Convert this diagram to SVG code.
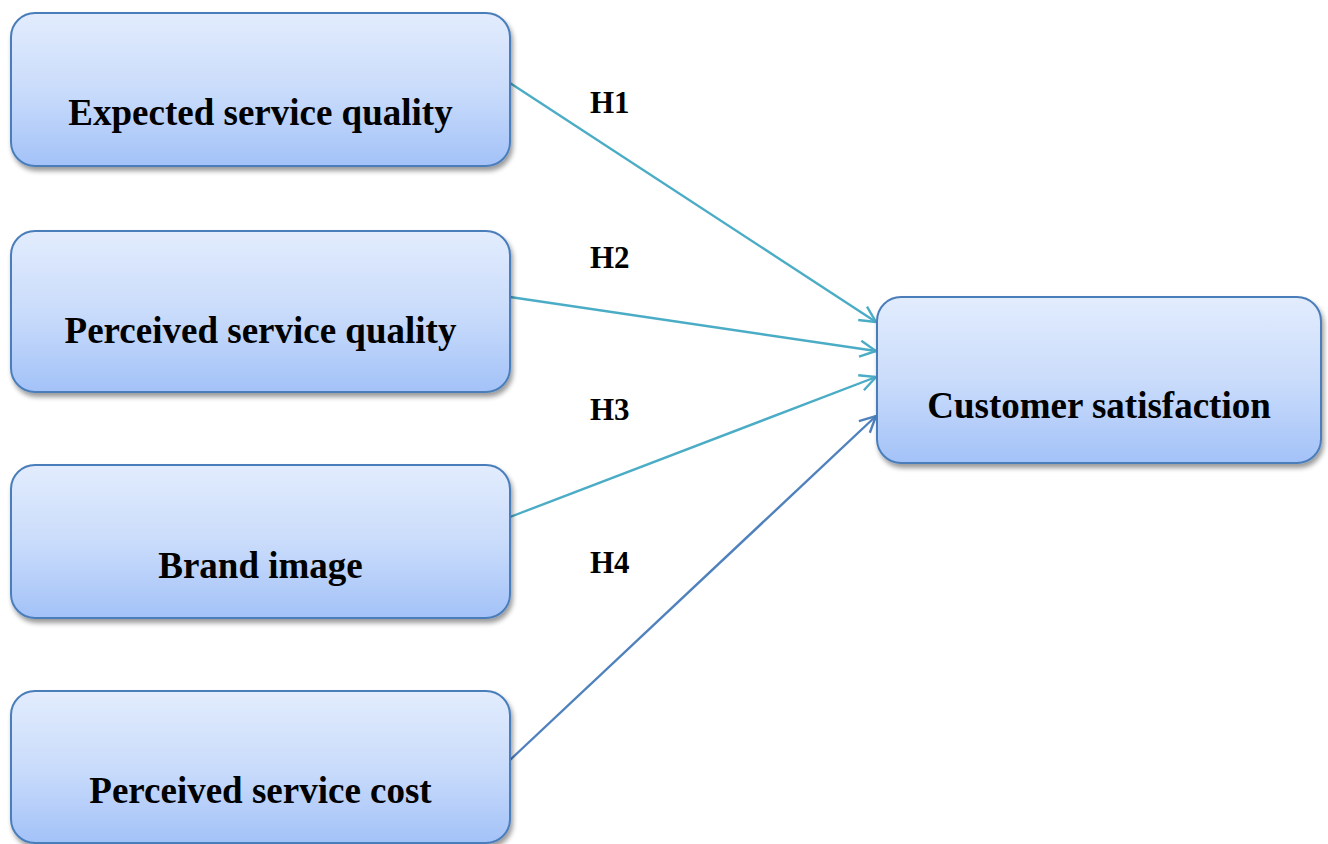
<svg xmlns="http://www.w3.org/2000/svg" width="1328" height="844" viewBox="0 0 1328 844">
<style>
.box{fill:url(#g);stroke:#4a7ebb;stroke-width:2;filter:url(#sh)}
.t{font-family:"Liberation Serif","Times New Roman",serif;font-weight:bold;font-size:37px;fill:#000;text-anchor:middle}
.h{font-family:"Liberation Serif","Times New Roman",serif;font-weight:bold;font-size:31px;fill:#000}
.c1{stroke:#4bacc6;stroke-width:2.4;fill:none}
.c2{stroke:#4f81bd;stroke-width:2.4;fill:none}
</style>
<defs>
<linearGradient id="g" x1="0" y1="0" x2="0" y2="1">
<stop offset="0" stop-color="#e2ecfd"/>
<stop offset="0.5" stop-color="#cadcfb"/>
<stop offset="1" stop-color="#a3c2f8"/>
</linearGradient>
<filter id="sh" x="-10%" y="-10%" width="120%" height="130%">
<feGaussianBlur in="SourceAlpha" stdDeviation="2.5"/>
<feOffset dx="2" dy="4" result="b"/>
<feComponentTransfer><feFuncA type="linear" slope="0.4"/></feComponentTransfer>
<feMerge><feMergeNode/><feMergeNode in="SourceGraphic"/></feMerge>
</filter>
<marker id="a1" markerUnits="userSpaceOnUse" markerWidth="20" markerHeight="20" refX="17" refY="9" orient="auto">
<path d="M1,1 L17,9 L1,17" fill="none" stroke="#4bacc6" stroke-width="2.4"/>
</marker>
<marker id="a2" markerUnits="userSpaceOnUse" markerWidth="20" markerHeight="20" refX="17" refY="9" orient="auto">
<path d="M1,1 L17,9 L1,17" fill="none" stroke="#4f81bd" stroke-width="2.4"/>
</marker>
</defs>
<g id="connectors">
<line class="c1" x1="510" y1="83" x2="876" y2="322" marker-end="url(#a1)"/>
<line class="c1" x1="510" y1="297" x2="876" y2="351" marker-end="url(#a1)"/>
<line class="c1" x1="510" y1="517" x2="876" y2="377" marker-end="url(#a1)"/>
<line class="c2" x1="510" y1="760" x2="876" y2="416" marker-end="url(#a2)"/>
<text class="h" x="590" y="113">H1</text>
<text class="h" x="590" y="268">H2</text>
<text class="h" x="590" y="420">H3</text>
<text class="h" x="590" y="573">H4</text>
</g>
<g id="n1"><rect class="box" x="11" y="13" width="499" height="153" rx="24"/><text class="t" x="260.5" y="125">Expected service quality</text></g>
<g id="n2"><rect class="box" x="11" y="231" width="499" height="161" rx="24"/><text class="t" x="260.5" y="343">Perceived service quality</text></g>
<g id="n3"><rect class="box" x="11" y="465" width="499" height="153" rx="24"/><text class="t" x="260.5" y="578">Brand image</text></g>
<g id="n4"><rect class="box" x="11" y="691" width="499" height="152" rx="24"/><text class="t" x="260.5" y="803">Perceived service cost</text></g>
<g id="n5"><rect class="box" x="877" y="297" width="444" height="166" rx="24"/><text class="t" x="1099" y="418">Customer satisfaction</text></g>
</svg>
